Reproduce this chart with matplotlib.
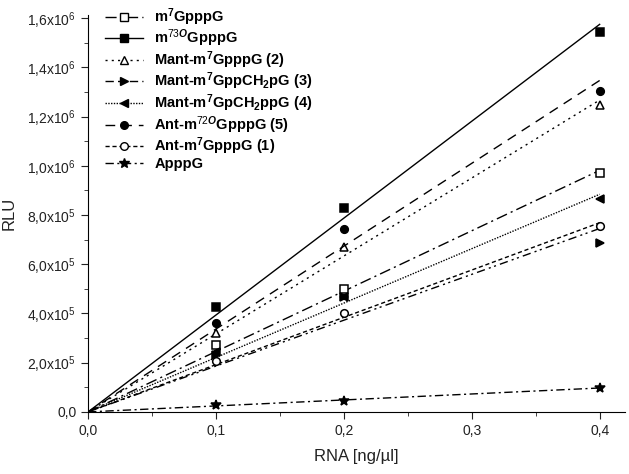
import numpy as np
import matplotlib.pyplot as plt
from matplotlib.ticker import MultipleLocator, FuncFormatter

plt.rcParams['font.family'] = ['Liberation Sans', 'DejaVu Sans']
plt.rcParams['mathtext.fontset'] = 'custom'
plt.rcParams['mathtext.rm'] = 'Liberation Sans'
plt.rcParams['mathtext.it'] = 'Liberation Sans:italic:bold'
plt.rcParams['mathtext.bf'] = 'Liberation Sans:bold'

# RNA concentration [ng/ul]
rna = np.array([0.1, 0.2, 0.4])

# RLU
m7GpppG = np.array([2.72e5, 5.0e5, 9.7e5])
m73OGpppG = np.array([4.27e5, 8.3e5, 15.45e5])
mant2 = np.array([3.2e5, 6.7e5, 12.48e5])
mant3 = np.array([2.3e5, 4.67e5, 6.87e5])
mant4 = np.array([2.44e5, 4.67e5, 8.66e5])
ant5 = np.array([3.62e5, 7.44e5, 13.05e5])
ant1 = np.array([2.07e5, 4.02e5, 7.56e5])
apppg = np.array([2.8e4, 4.5e4, 9.8e4])

labels = [
    r'm$^\mathbf{7}$GpppG',
    r'm$^{\mathit{73O}}$GpppG',
    r'Mant-m$^\mathbf{7}$GpppG (2)',
    r'Mant-m$^\mathbf{7}$GppCH$_\mathbf{2}$pG (3)',
    r'Mant-m$^\mathbf{7}$GpCH$_\mathbf{2}$ppG (4)',
    r'Ant-m$^{\mathit{72O}}$GpppG (5)',
    r'Ant-m$^\mathbf{7}$GpppG (1)',
    'ApppG',
]
series = [m7GpppG, m73OGpppG, mant2, mant3, mant4, ant5, ant1, apppg]
markers = ['s', 's', '^', '>', '<', 'o', 'o', '*']
fills = ['white', 'black', 'white', 'black', 'black', 'black', 'white', 'black']
styles = [(0, (8, 3, 1.5, 3)), '-', (0, (1.5, 3)), (0, (6, 3, 1.5, 2.5, 1.5, 3)),
          (0, (1, 1)), (0, (7, 5)), (0, (3, 2)), (0, (6, 2.5, 1.5, 2.5))]

fig, ax = plt.subplots(figsize=(6.29, 4.74), dpi=100)
fig.subplots_adjust(left=0.14, right=0.994, top=0.968, bottom=0.131)

xfit = np.array([0.0, 0.4])
for y, lab, mk, fc, ls in zip(series, labels, markers, fills, styles):
    # linear fit through origin
    slope = np.sum(rna * y) / np.sum(rna ** 2)
    ax.plot(xfit, slope * xfit, color='black', lw=1, ls=ls)
    ax.plot(rna, y, ls='none', marker=mk, ms=7 if mk == '*' else 5.5,
            mfc=fc, mec='black', mew=1.1)
    ax.plot([], [], color='black', lw=1, ls=ls, marker=mk,
            ms=7 if mk == '*' else 5.5, mfc=fc, mec='black', label=lab)

ax.set_xlim(0, 0.42)
ax.set_ylim(0, 1.612e6)
ax.spines['top'].set_visible(False)
ax.spines['right'].set_visible(False)
ax.xaxis.set_major_locator(MultipleLocator(0.1))
ax.xaxis.set_minor_locator(MultipleLocator(0.05))
ax.yaxis.set_major_locator(MultipleLocator(2e5))
ax.yaxis.set_minor_locator(MultipleLocator(1e5))
ax.tick_params(which='major', direction='out', length=5, labelsize=10, colors='#222')
ax.tick_params(which='minor', direction='out', length=3, colors='#222')
ax.xaxis.set_major_formatter(FuncFormatter(lambda v, p: f'{abs(v):.1f}'.replace('.', ',')))


def yfmt(v, p):
    if abs(v) < 1:
        return '0,0'
    if v < 0:
        return ''
    e = int(np.floor(np.log10(v) + 1e-9))
    m = v / 10 ** e
    return f'{m:.1f}'.replace('.', ',') + 'x10$^{' + str(e) + '}$'


ax.yaxis.set_major_formatter(FuncFormatter(yfmt))

ax.set_xlabel('RNA [ng/µl]', fontsize=12, color='#222', labelpad=8)
ax.set_ylabel('RLU', fontsize=12, color='#222', labelpad=8)

ax.legend(loc='upper left', bbox_to_anchor=(0.015, 1.045), frameon=False,
          handlelength=2.6, labelspacing=0.0, handletextpad=0.8,
          borderaxespad=0.2, prop={'weight': 'bold', 'size': 10.5})

plt.savefig('out.png')
